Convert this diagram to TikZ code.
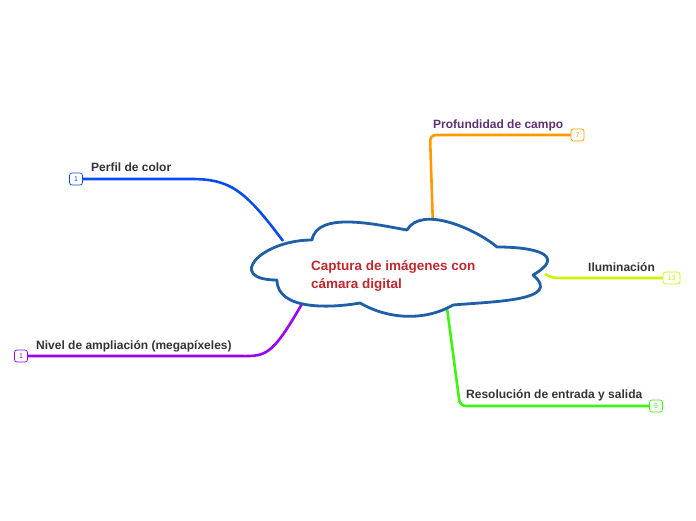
\documentclass[tikz,border=0pt]{standalone}
\usepackage{fontspec}
\setmainfont{Liberation Sans}
\usetikzlibrary{calc, positioning}

\definecolor{cloudblue}{HTML}{1F5FA8}
\definecolor{titlered}{HTML}{C0282D}
\definecolor{labelgray}{HTML}{333333}
\definecolor{labelpurple}{HTML}{5C3272}
\definecolor{brorange}{HTML}{FF9900}
\definecolor{brblue}{HTML}{0A4BF0}
\definecolor{bryellow}{HTML}{CCF500}
\definecolor{brgreen}{HTML}{3DF510}
\definecolor{brpurple}{HTML}{9B00F0}

\tikzset{
  branch/.style={line width=2.6pt, rounded corners=6pt},
  badge/.style={draw=#1, text=#1, fill=white, rounded corners=2.5pt, line width=0.7pt,
    font=\fontsize{7}{8}\selectfont, minimum width=13pt, minimum height=12pt, inner sep=1pt},
  leaf/.style={font=\fontsize{12}{14}\selectfont\bfseries, text=labelgray, anchor=west, inner sep=0pt},
}

\begin{document}
\begin{tikzpicture}[x=1pt, y=1pt]
\useasboundingbox (0,0) rectangle (696,520);

% cusps of the cloud
\coordinate (C1) at (312,280);
\coordinate (C2) at (407,290);
\coordinate (C3) at (497,273);
\coordinate (C4) at (533,245);
\coordinate (C5) at (453,215);
\coordinate (C6) at (360,217);
\coordinate (C7) at (277,240);

% where the branches leave the cloud
\coordinate (oTop) at (433,293);
\coordinate (oLeft) at (283,279);
\coordinate (oRight) at (545,246);
\coordinate (oBottom) at (447,212);
\coordinate (oLow) at (303,218);

% branches
\node[badge=brorange] (bProf) at (577.5,385) {7};
\draw[branch, brorange] (oTop) -- (430,385) -- (bProf.west);

\node[badge=brblue] (bPerf) at (76,341) {1};
\draw[branch, brblue] (oLeft) .. controls (245,330) and (230,341) .. (185,341) -- (bPerf.east);

\node[badge=bryellow, minimum width=17pt] (bIlum) at (671.5,242) {13};
\draw[branch, bryellow] (oRight) .. controls (552,242) .. (575,242) -- (bIlum.west);

\node[badge=brgreen] (bRes) at (656,114) {5};
\draw[branch, brgreen] (oBottom) -- (460,114) -- (bRes.west);

\node[badge=brpurple] (bNiv) at (21,164) {1};
\draw[branch, brpurple] (oLow) .. controls (270,160) and (265,164) .. (230,164) -- (bNiv.east);

% cloud
\draw[cloudblue, line width=2.8pt, fill=white, line join=round]
  (C1) to[out=80, in=170, looseness=0.8] (C2)
       to[out=60, in=140, looseness=0.8] (C3)
       to[out=0, in=30, looseness=2.2] (C4)
       to[out=-40, in=5, looseness=1.2] (C5)
       to[out=-150, in=-30, looseness=0.9] (C6)
       to[out=-170, in=-90, looseness=0.9] (C7)
       to[out=180, in=180, looseness=2.5] cycle;

\node[font=\fontsize{13.5}{18}\selectfont\bfseries, text=titlered, align=left,
  anchor=west, inner sep=0pt] (centre) at (311,244)
  {Captura de imágenes con\\cámara digital};

% labels
\node[leaf, text=labelpurple] (lProf) at (433,395) {Profundidad de campo};
\node[leaf] (lPerf) at (91,353) {Perfil de color};
\node[leaf] (lIlum) at (588,253) {Iluminación};
\node[leaf] (lRes) at (466,125) {Resolución de entrada y salida};
\node[leaf] (lNiv) at (36,174) {Nivel de ampliación (megapíxeles)};
\end{tikzpicture}
\end{document}
